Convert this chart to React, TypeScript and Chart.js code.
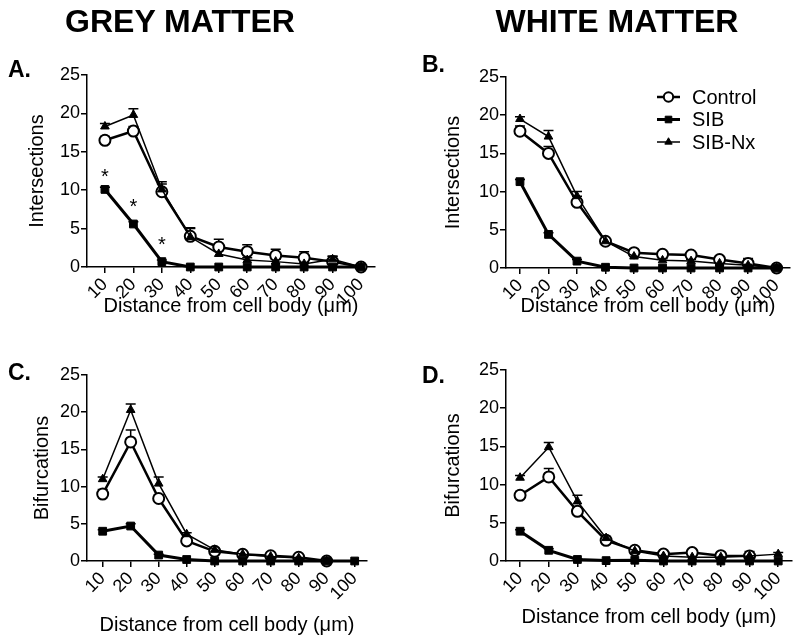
import React, { useEffect, useRef } from "react";
import { Chart, registerables } from "chart.js";

Chart.register(...registerables);

// ---------- data ----------
const distances = [10, 20, 30, 40, 50, 60, 70, 80, 90, 100];
const yTicks = [0, 5, 10, 15, 20, 25];
const seriesNames = ["Control", "SIB", "SIB-Nx"];
const xTitle = "Distance from cell body (μm)";

// A. Grey matter – intersections
const ctrlA = [16.5, 17.7, 9.8, 4.0, 2.6, 2.0, 1.5, 1.2, 0.7, 0];
const ctrlAErr = [0.5, 0.6, 1.0, 1.0, 1.0, 0.9, 0.8, 0.8, 0.7, 0];
const sibA = [10.1, 5.6, 0.7, 0, 0, 0, 0, 0, 0, 0];
const sibAErr = [0.3, 0.3, 0.2, 0, 0, 0, 0, 0, 0, 0];
const nxA = [18.3, 19.8, 10.1, 3.9, 1.7, 0.9, 0.7, 0.4, 1.0, 0];
const nxAErr = [0.4, 0.8, 1.0, 1.2, 0.5, 0.3, 0.3, 0.2, 0.4, 0];
const starXA = [10, 20, 30];
const starYA = [12.4, 8.4, 3.5];

// B. White matter – intersections
const ctrlB = [17.9, 15.0, 8.6, 3.5, 2.0, 1.8, 1.7, 1.1, 0.6, 0];
const ctrlBErr = [0.7, 0.9, 0.8, 0.3, 0.2, 0.2, 0.2, 0.2, 0.3, 0];
const sibB = [11.3, 4.4, 0.9, 0.1, 0, 0, 0, 0, 0, 0];
const sibBErr = [0.3, 0.2, 0.2, 0, 0, 0, 0, 0, 0, 0];
const nxB = [19.5, 17.2, 9.4, 3.5, 1.5, 1.0, 0.9, 0.6, 0.35, 0];
const nxBErr = [0.3, 0.8, 0.6, 0.3, 0.3, 0.2, 0.2, 0.2, 0.9, 0];

// C. Grey matter – bifurcations
const ctrlC = [9.0, 16.0, 8.4, 2.7, 1.3, 0.9, 0.7, 0.5, 0, null];
const ctrlCErr = [0.6, 1.6, 0.5, 0.2, 0.2, 0.2, 0.1, 0.1, 0, 0];
const sibC = [4.0, 4.7, 0.8, 0.2, 0, 0, 0, 0, 0, 0];
const sibCErr = [0.2, 0.3, 0.1, 0, 0, 0, 0, 0, 0, 0];
const nxC = [11.0, 20.3, 10.4, 3.6, 1.5, 0.9, 0.6, 0.4, 0, null];
const nxCErr = [0.3, 0.8, 0.9, 0.2, 0.2, 0.1, 0.1, 0.1, 0, 0];

// D. White matter – bifurcations
const ctrlD = [8.6, 11.0, 6.5, 2.7, 1.4, 0.9, 1.1, 0.7, 0.65, null];
const ctrlDErr = [0.5, 1.1, 0.5, 0.2, 0.2, 0.2, 0.2, 0.2, 0.3, 0];
const sibD = [3.9, 1.4, 0.2, 0.05, 0.1, 0, 0, 0, 0, 0];
const sibDErr = [0.2, 0.2, 0.1, 0, 0, 0, 0, 0, 0, 0];
const nxD = [10.9, 14.9, 7.8, 3.0, 1.3, 0.65, 0.5, 0.5, 0.65, 0.9];
const nxDErr = [0.3, 0.6, 0.8, 0.2, 0.2, 0.2, 0.2, 0.2, 0.6, 0.2];

// ---------- plugins ----------
const errorBarPlugin = {
  id: "errorBars",
  beforeDatasetsDraw(chart: any) {
    const ctx = chart.ctx;
    const ys = chart.scales.y;
    chart.data.datasets.forEach((ds: any, i: number) => {
      const errs = ds.errors;
      if (!errs) return;
      const meta = chart.getDatasetMeta(i);
      meta.data.forEach((pt: any, j: number) => {
        const v = ds.data[j] ? ds.data[j].y : null;
        const e = errs[j];
        if (v == null || !e) return;
        const px = pt.x;
        const p0 = ys.getPixelForValue(v);
        const p1 = ys.getPixelForValue(v + e);
        ctx.save();
        ctx.strokeStyle = "#000";
        ctx.lineWidth = 1.5;
        ctx.beginPath();
        ctx.moveTo(px, p0);
        ctx.lineTo(px, p1);
        ctx.moveTo(px - 5, p1);
        ctx.lineTo(px + 5, p1);
        ctx.stroke();
        ctx.restore();
      });
    });
  },
};

const starPlugin = {
  id: "stars",
  afterDatasetsDraw(chart: any, _args: any, opts: any) {
    if (!opts || !opts.xs) return;
    const ctx = chart.ctx;
    ctx.save();
    ctx.fillStyle = "#000";
    ctx.font = "20px 'Liberation Sans', Arial, sans-serif";
    ctx.textAlign = "center";
    ctx.textBaseline = "alphabetic";
    opts.xs.forEach((x: number, i: number) => {
      const px = chart.scales.x.getPixelForValue(x);
      const py = chart.scales.y.getPixelForValue(opts.ys[i]);
      ctx.fillText("*", px, py + 11);
    });
    ctx.restore();
  },
};

function drawMarker(ctx: any, style: string, x: number, y: number, r: number, fill: string, bw: number) {
  ctx.beginPath();
  if (style === "circle") {
    ctx.arc(x, y, r, 0, Math.PI * 2);
  } else if (style === "rect") {
    const s = r * Math.SQRT1_2;
    ctx.rect(x - s, y - s, 2 * s, 2 * s);
  } else {
    ctx.moveTo(x, y - r);
    ctx.lineTo(x + r * 0.866, y + r * 0.5);
    ctx.lineTo(x - r * 0.866, y + r * 0.5);
    ctx.closePath();
  }
  ctx.fillStyle = fill;
  ctx.fill();
  ctx.lineWidth = bw;
  ctx.strokeStyle = "#000";
  ctx.stroke();
}

const legendPlugin = {
  id: "customLegend",
  afterDraw(chart: any, _args: any, opts: any) {
    if (!opts || !opts.show) return;
    const ctx = chart.ctx;
    ctx.save();
    chart.data.datasets.forEach((ds: any, i: number) => {
      const y = opts.y + i * opts.spacing;
      ctx.strokeStyle = "#000";
      ctx.lineWidth = ds.borderWidth;
      ctx.beginPath();
      ctx.moveTo(opts.x, y);
      ctx.lineTo(opts.x + opts.len, y);
      ctx.stroke();
      drawMarker(ctx, ds.pointStyle, opts.x + opts.len / 2, y, ds.pointRadius * 0.85, ds.pointBackgroundColor, ds.pointBorderWidth);
      ctx.fillStyle = "#000";
      ctx.font = "20px 'Liberation Sans', Arial, sans-serif";
      ctx.textAlign = "left";
      ctx.textBaseline = "middle";
      ctx.fillText(ds.label, opts.textX, y + 1);
    });
    ctx.restore();
  },
};

// ---------- panels ----------
type Area = { left: number; top: number; right: number; bottom: number };
type Spec = {
  left: number;
  top: number;
  area: Area;
  xmin: number;
  xmax: number;
  yLabel: string;
  yTitlePad: number;
  xTitlePad: number;
  ctrl: (number | null)[];
  ctrlErr: number[];
  sib: (number | null)[];
  sibErr: number[];
  nx: (number | null)[];
  nxErr: number[];
  stars?: { xs: number[]; ys: number[] };
  legend?: boolean;
};

const W = 400;
const H = 322;

const specs: Spec[] = [
  {
    left: 0, top: 0, area: { left: 87, top: 75, right: 375, bottom: 267 }, xmin: 3.7, xmax: 104.9,
    yLabel: "Intersections", yTitlePad: 25, xTitlePad: 4,
    ctrl: ctrlA, ctrlErr: ctrlAErr, sib: sibA, sibErr: sibAErr, nx: nxA, nxErr: nxAErr,
    stars: { xs: starXA, ys: starYA },
  },
  {
    left: 400, top: 0, area: { left: 106, top: 77, right: 390, bottom: 268 }, xmin: 5.1, xmax: 104.7,
    yLabel: "Intersections", yTitlePad: 41, xTitlePad: 4,
    ctrl: ctrlB, ctrlErr: ctrlBErr, sib: sibB, sibErr: sibBErr, nx: nxB, nxErr: nxBErr,
    legend: true,
  },
  {
    left: 0, top: 322, area: { left: 87, top: 53, right: 367, bottom: 239 }, xmin: 4.4, xmax: 104.4,
    yLabel: "Bifurcations", yTitlePad: 30, xTitlePad: 7,
    ctrl: ctrlC, ctrlErr: ctrlCErr, sib: sibC, sibErr: sibCErr, nx: nxC, nxErr: nxCErr,
  },
  {
    left: 400, top: 322, area: { left: 106, top: 48, right: 392, bottom: 239 }, xmin: 5.1, xmax: 104.8,
    yLabel: "Bifurcations", yTitlePad: 41, xTitlePad: 15,
    ctrl: ctrlD, ctrlErr: ctrlDErr, sib: sibD, sibErr: sibDErr, nx: nxD, nxErr: nxDErr,
  },
];

const pts = (vals: (number | null)[]) => distances.map((d, i) => ({ x: d, y: vals[i] }));

function makeConfig(s: Spec): any {
  const font = "'Liberation Sans', Arial, sans-serif";
  return {
    type: "line",
    data: {
      datasets: [
        {
          label: seriesNames[0], data: pts(s.ctrl), errors: s.ctrlErr, order: 3,
          borderColor: "#000", borderWidth: 2.5, pointStyle: "circle", pointRadius: 5.5,
          pointBackgroundColor: "#fff", pointBorderColor: "#000", pointBorderWidth: 2,
          clip: false, spanGaps: false, tension: 0,
        },
        {
          label: seriesNames[1], data: pts(s.sib), errors: s.sibErr, order: 2,
          borderColor: "#000", borderWidth: 3, pointStyle: "rect", pointRadius: 5.5,
          pointBackgroundColor: "#000", pointBorderColor: "#000", pointBorderWidth: 1,
          clip: false, spanGaps: false, tension: 0,
        },
        {
          label: seriesNames[2], data: pts(s.nx), errors: s.nxErr, order: 1,
          borderColor: "#000", borderWidth: 1.5, pointStyle: "triangle", pointRadius: 5,
          pointBackgroundColor: "#000", pointBorderColor: "#000", pointBorderWidth: 1,
          clip: false, spanGaps: false, tension: 0,
        },
      ],
    },
    options: {
      responsive: false,
      animation: false,
      devicePixelRatio: 1,
      events: [],
      layout: { padding: { left: 0, top: s.area.top, right: W - s.area.right, bottom: 0 } },
      plugins: {
        legend: { display: false },
        tooltip: { enabled: false },
        stars: s.stars ? { xs: s.stars.xs, ys: s.stars.ys } : {},
        customLegend: s.legend ? { show: true, x: 257, y: 97, spacing: 22.5, len: 23, textX: 292 } : { show: false },
      },
      scales: {
        x: {
          type: "linear",
          min: s.xmin,
          max: s.xmax,
          afterBuildTicks: (sc: any) => { sc.ticks = distances.map((v) => ({ value: v })); },
          afterFit: (sc: any) => { sc.height = H - s.area.bottom; },
          ticks: {
            color: "#000", font: { family: font, size: 18 }, minRotation: 45, maxRotation: 45,
            autoSkip: false, padding: 1, callback: (v: any) => String(v),
          },
          grid: { drawOnChartArea: false, color: "#000", lineWidth: 1.5, tickLength: 6 },
          border: { color: "#000", width: 1.5 },
          title: { display: true, text: xTitle, color: "#000", font: { family: font, size: 20 }, padding: { top: 0, bottom: s.xTitlePad } },
        },
        y: {
          type: "linear",
          min: 0,
          max: 25,
          afterBuildTicks: (sc: any) => { sc.ticks = yTicks.map((v) => ({ value: v })); },
          afterFit: (sc: any) => { sc.width = s.area.left; },
          ticks: { color: "#000", font: { family: font, size: 18 }, padding: 1 },
          grid: { drawOnChartArea: false, color: "#000", lineWidth: 1.5, tickLength: 6 },
          border: { color: "#000", width: 1.5 },
          title: { display: true, text: s.yLabel, color: "#000", font: { family: font, size: 20 }, padding: { top: s.yTitlePad, bottom: 0 } },
        },
      },
    },
    plugins: [errorBarPlugin, starPlugin, legendPlugin],
  };
}

function Panel({ spec }: { spec: Spec }) {
  const ref = useRef<HTMLCanvasElement>(null);
  useEffect(() => {
    if (!ref.current) return;
    const chart = new Chart(ref.current, makeConfig(spec));
    return () => chart.destroy();
  }, [spec]);
  return (
    <canvas
      ref={ref}
      width={W}
      height={H}
      style={{ position: "absolute", left: spec.left, top: spec.top, width: W, height: H }}
    />
  );
}

const textBase: React.CSSProperties = {
  position: "absolute",
  fontFamily: "'Liberation Sans', Arial, sans-serif",
  fontWeight: "bold",
  color: "#000",
  lineHeight: 1,
  whiteSpace: "nowrap",
  margin: 0,
};

export default function App() {
  return (
    <div style={{ position: "absolute", left: 0, top: 0, width: 800, height: 644, background: "#fff", overflow: "hidden" }}>
      {specs.map((s, i) => (
        <Panel key={i} spec={s} />
      ))}
      <div style={{ ...textBase, fontSize: 32, left: 180, top: 5, transform: "translateX(-50%)" }}>GREY MATTER</div>
      <div style={{ ...textBase, fontSize: 32, left: 617, top: 5, transform: "translateX(-50%)" }}>WHITE MATTER</div>
      <div style={{ ...textBase, fontSize: 23, left: 8, top: 58 }}>A.</div>
      <div style={{ ...textBase, fontSize: 23, left: 422, top: 53 }}>B.</div>
      <div style={{ ...textBase, fontSize: 23, left: 8, top: 361 }}>C.</div>
      <div style={{ ...textBase, fontSize: 23, left: 422, top: 364 }}>D.</div>
    </div>
  );
}
